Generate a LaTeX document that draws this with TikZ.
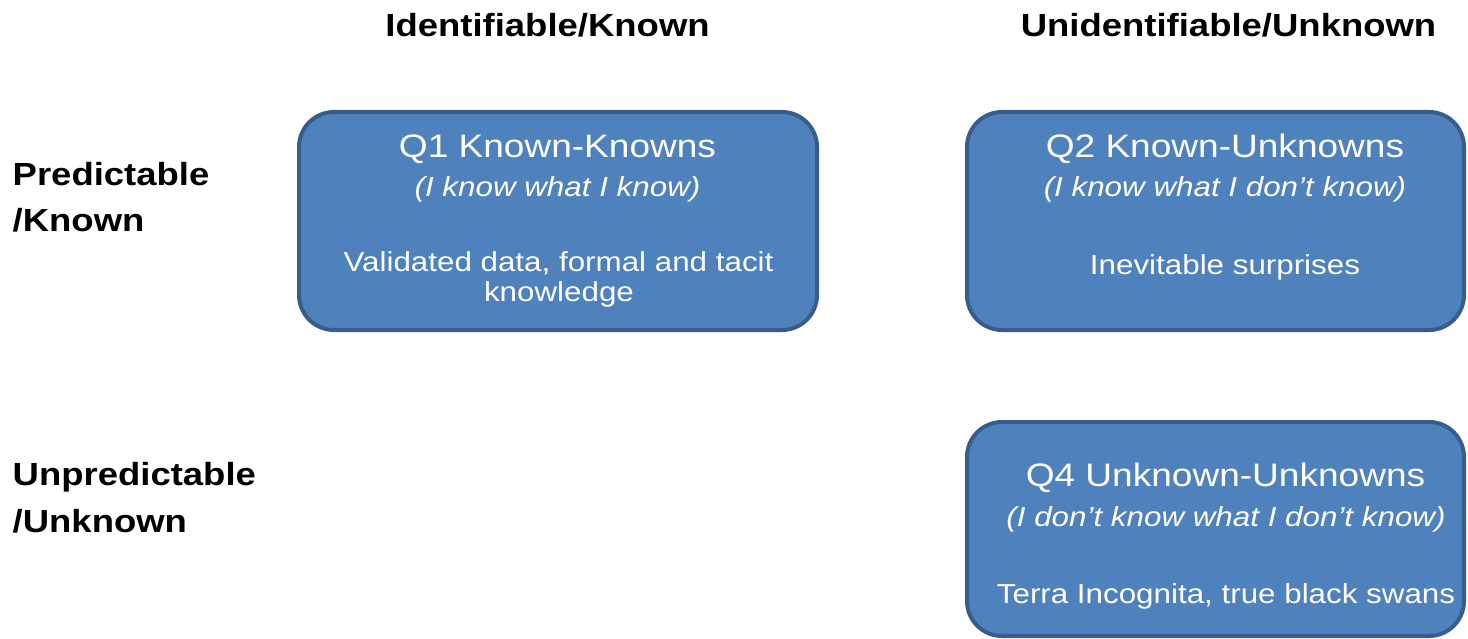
\documentclass[tikz,border=0pt]{standalone}
\usepackage{fontspec}
\setmainfont{Liberation Sans}[FakeStretch=1.14]
\definecolor{boxfill}{HTML}{4F81BD}
\definecolor{boxline}{HTML}{385D8A}
\begin{document}
\begin{tikzpicture}[x=1pt,y=-1pt,
  qbox/.style={draw=boxline, fill=boxfill, line width=4pt, rounded corners=35pt,
    inner sep=0pt, minimum width=#1},
  header/.style={font=\fontsize{32}{38}\selectfont\bfseries, inner sep=0pt, anchor=base},
  rowlabel/.style={font=\fontsize{32}{38}\selectfont\bfseries, inner sep=0pt, anchor=base west},
  qtitle/.style={font=\fontsize{32.5}{38}\selectfont, text=white, inner sep=0pt, anchor=base},
  qsub/.style={font=\fontsize{27.5}{33}\selectfont\itshape, text=white, inner sep=0pt, anchor=base},
  qdesc/.style={font=\fontsize{27.5}{33}\selectfont, text=white, inner sep=0pt, anchor=base}]
\useasboundingbox (0,0) rectangle (1468,639);

% column headers
\node[header] (colknown) at (547.5,37) {Identifiable/Known};
\node[header] (colunknown) at (1228.5,37) {Unidentifiable/Unknown};

% row labels
\node[rowlabel] (rowpred1) at (12.5,185.5) {Predictable};
\node[rowlabel] (rowpred2) at (12.5,231.7) {/Known};
\node[rowlabel] (rowunpred1) at (12.5,485.5) {Unpredictable};
\node[rowlabel] (rowunpred2) at (12.5,532) {/Unknown};

% quadrant boxes
\node[qbox=518pt, minimum height=218pt] (q1) at (558,221) {};
\node[qbox=497pt, minimum height=218pt] (q2) at (1215.5,221) {};
\node[qbox=497pt, minimum height=214pt] (q4) at (1215.5,529) {};

% Q1 text
\node[qtitle] (q1title) at (557.5,157.5) {Q1 Known-Knowns};
\node[qsub] (q1sub) at (557.5,196.5) {(I know what I know)};
\node[qdesc] (q1desc1) at (558.5,271.5) {Validated data, formal and tacit};
\node[qdesc] (q1desc2) at (559,301.5) {knowledge};

% Q2 text
\node[qtitle] (q2title) at (1225,157.5) {Q2 Known-Unknowns};
\node[qsub] (q2sub) at (1225,196.5) {(I know what I don’t know)};
\node[qdesc] (q2desc) at (1225,275) {Inevitable surprises};

% Q4 text
\node[qtitle] (q4title) at (1225.5,486.5) {Q4 Unknown-Unknowns};
\node[qsub] (q4sub) at (1226,526.5) {(I don’t know what I don’t know)};
\node[qdesc] (q4desc) at (1226,603) {Terra Incognita, true black swans};
\end{tikzpicture}
\end{document}
